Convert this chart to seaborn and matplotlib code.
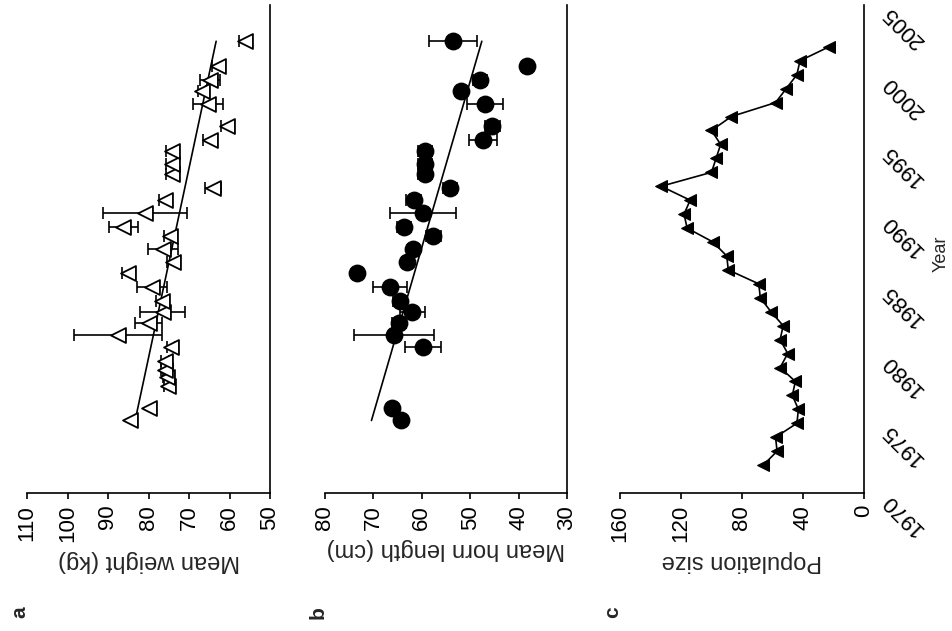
"""
plot.py
Trends in body weight, horn length and population size (rotated layout).
"""

import numpy as np
import pandas as pd
import matplotlib
matplotlib.use("Agg")
import matplotlib.pyplot as plt
import seaborn as sns

sns.set_theme(style="ticks")
plt.rcParams['font.family'] = ['Liberation Sans', 'DejaVu Sans']


# ─── Data ───────────────────────────────────────────────────────────────────
years_ab = [1975.2, 1976.1, 1977.7, 1978.3, 1978.8, 1979.5, 1980.5, 1981.3,
            1982.2, 1983.0, 1983.8, 1984.8, 1985.8, 1986.6, 1987.5, 1988.4,
            1989.1, 1990.1, 1991.0, 1991.9, 1992.9, 1993.6, 1994.5, 1995.3,
            1996.3, 1997.9, 1998.8, 1999.6, 2000.6, 2002.4]

weight     = [84.6, 80.0, 75.1, 75.5, 75.9, 75.9, 74.4, 87.5,
              80.0, 76.5, 76.7, 79.2, 85.0, 73.9, 76.4, 74.7,
              86.2, 80.9, 75.9, 64.0, 74.3, 74.3, 74.3, 64.8,
              60.7, 65.2, 66.9, 64.8, 62.8, 56.2]
weight_err = [0.0, 0.0, 1.0, 1.0, 1.0, 1.0, 1.0, 10.9,
              3.3, 5.5, 1.5, 3.7, 1.5, 1.5, 3.7, 1.5,
              3.6, 10.4, 1.5, 2.0, 1.5, 1.5, 1.5, 1.8,
              1.5, 3.7, 1.0, 2.5, 1.5, 1.5]

horn     = [64.2, 66.2, np.nan, np.nan, np.nan, np.nan, 59.7, 65.7,
            64.7, 62.0, 64.5, 66.6, 73.3, 63.1, 61.8, 57.6,
            63.7, 59.7, 61.7, 54.2, 59.3, 59.3, 59.3, 47.4,
            45.4, 47.0, 51.8, 48.0, 38.2, 53.5]
horn_err = [0.0, 0.0, 0.0, 0.0, 0.0, 0.0, 3.7, 8.3,
            1.5, 2.6, 1.5, 3.5, 0.0, 1.0, 1.0, 1.5,
            1.5, 6.8, 1.5, 1.5, 1.5, 1.5, 1.5, 2.9,
            1.5, 3.7, 1.0, 1.5, 0.0, 5.0]

trend_years  = [1975.2, 2002.4]
weight_trend = [83.3, 63.3]
horn_trend   = [70.4, 47.6]

years_c  = [1972, 1973, 1974, 1975, 1976, 1977, 1978, 1979, 1980, 1981,
            1982, 1983, 1984, 1985, 1986, 1987, 1988, 1989, 1990, 1991,
            1992, 1993, 1994, 1995, 1996, 1997, 1998, 1999, 2000, 2001, 2002]
pop_size = [66, 57, 58, 44, 43, 47, 45, 55, 50, 55,
            53, 61, 68, 69, 89, 90, 99, 116, 118, 114,
            133, 100, 97, 94, 100, 87, 58, 51, 44, 42, 23]


# ─── Layout (three panels side by side, value axis reversed) ───────────────
W, H = 953, 631
fig = plt.figure(figsize=(W / 100, H / 100), dpi=100)
boxes = [(27, 270), (325, 567), (620, 864)]
top_px, bottom_px = 5, 493
axes = [fig.add_axes([l / W, 1 - bottom_px / H, (r - l) / W, (bottom_px - top_px) / H])
        for l, r in boxes]

panels = [
    dict(val=weight, err=weight_err, trend=weight_trend, lim=(110, 50),
         ticks=range(50, 111, 10), label="Mean weight (kg)", letter="a"),
    dict(val=horn, err=horn_err, trend=horn_trend, lim=(80, 30),
         ticks=range(30, 81, 10), label="Mean horn length (cm)", letter="b"),
]

lw = 1.2
for ax, p in zip(axes[:2], panels):
    df = pd.DataFrame({"year": years_ab, "val": p["val"], "err": p["err"]}).dropna()
    eb = df[df["err"] > 0]
    ax.errorbar(eb["val"], eb["year"], xerr=eb["err"], fmt="none",
                ecolor="black", elinewidth=lw, capsize=4.5, capthick=lw, zorder=2)
    sns.lineplot(x=p["trend"], y=trend_years, orient="y", color="black",
                 linewidth=lw, ax=ax, zorder=1)
    if p["letter"] == "a":
        sns.scatterplot(data=df, x="val", y="year", marker="<", s=115,
                        facecolor="white", edgecolor="black", linewidth=1.3,
                        ax=ax, zorder=3)
    else:
        sns.scatterplot(data=df, x="val", y="year", marker="o", s=165,
                        color="black", edgecolor="black", linewidth=0,
                        ax=ax, zorder=3)
    ax.set_xlim(*p["lim"])
    ax.set_xticks(list(p["ticks"]))
    ax.set_xlabel(p["label"], rotation=180, fontsize=17, labelpad=6)
    ax.text(-0.03, -0.245, p["letter"], transform=ax.transAxes, rotation=90,
            fontsize=15, fontweight="bold", ha="center", va="center")

# Population size
ax = axes[2]
sns.lineplot(x=pop_size, y=years_c, orient="y", color="black", linewidth=lw,
             marker="<", markersize=8, markeredgecolor="black", ax=ax)
ax.set_xlim(160, 0)
ax.set_xticks([0, 40, 80, 120, 160])
ax.set_xlabel("Population size", rotation=180, fontsize=17, labelpad=6)
ax.text(-0.03, -0.245, "c", transform=ax.transAxes, rotation=90,
        fontsize=15, fontweight="bold", ha="center", va="center")

# Shared styling
for i, ax in enumerate(axes):
    ax.set_ylim(1970, 2005)
    ax.set_yticks(range(1970, 2006, 5))
    ax.yaxis.tick_right()
    sns.despine(ax=ax, left=True, top=True, right=False, bottom=False)
    for side in ("bottom", "right"):
        ax.spines[side].set_linewidth(lw)
        ax.spines[side].set_color("black")
    ax.tick_params(direction="out", length=4.5, width=lw, color="black",
                   labelsize=16, labelcolor="black", pad=4)
    ax.tick_params(axis="x", labelrotation=90)
    ax.set_ylabel("")
    if i < 2:
        ax.tick_params(axis="y", labelright=False)

ax = axes[2]
ax.tick_params(axis="y", pad=14)
plt.setp(ax.get_yticklabels(), rotation=135, ha="right", va="baseline",
         rotation_mode="anchor")
ax.set_ylabel("Year", fontsize=13)
ax.yaxis.set_label_position("right")
ax.yaxis.set_label_coords(1.283, 0.49)

fig.savefig("out.png", dpi=100)
